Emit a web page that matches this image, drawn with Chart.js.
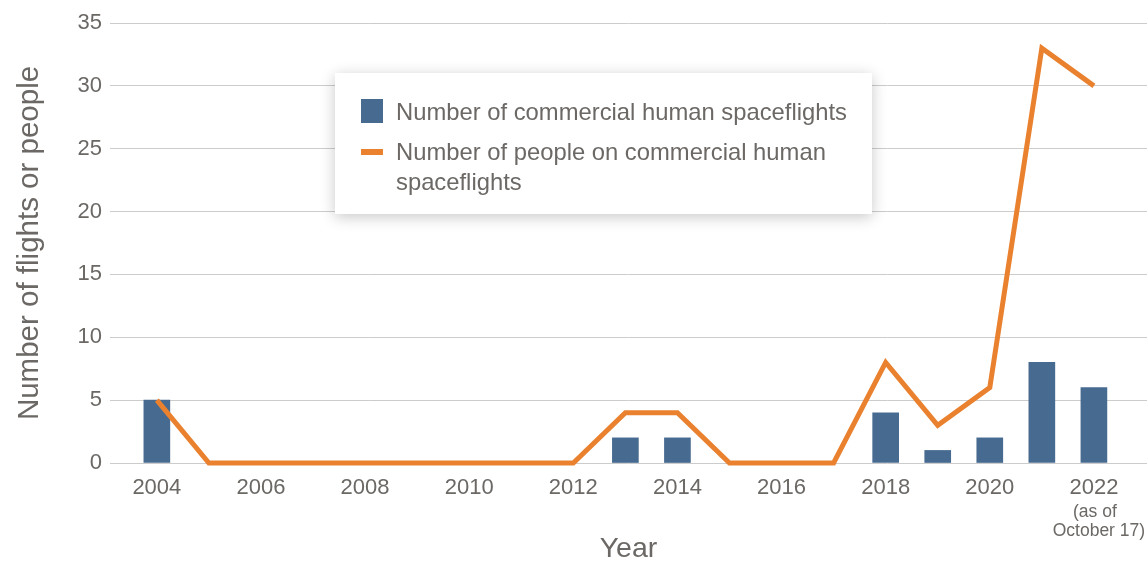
<!DOCTYPE html>
<html>
<head>
<meta charset="utf-8">
<script src="https://cdn.jsdelivr.net/npm/chart.js@4.4.0/dist/chart.umd.min.js"></script>
<style>
  html, body { margin: 0; padding: 0; background: #fff; }
  #wrap { position: relative; width: 1147px; height: 563px; }
  canvas { display: block; }
  #legend {
    position: absolute; left: 335px; top: 73px; width: 537px; height: 141px;
    background: #fff; box-shadow: 0 3px 14px rgba(0,0,0,0.22);
    font-family: "Liberation Sans", Arial, sans-serif; font-size: 23.8px; color: #6b6865;
    box-sizing: border-box; padding: 24px 10px 0 26px;
  }
  .item { display: flex; align-items: flex-start; margin-bottom: 10px; line-height: 30px; }
  .sw { flex: 0 0 22px; margin-right: 13px; }
  .sq { width: 22px; height: 24px; margin-top: 2px; }
  .ln { width: 22px; height: 6px; margin-top: 12px; }
</style>
</head>
<body>
<div id="wrap">
  <canvas id="c" width="1147" height="563"></canvas>
  <div id="legend"></div>
</div>
<script>
const years = [2004,2005,2006,2007,2008,2009,2010,2011,2012,2013,2014,2015,2016,2017,2018,2019,2020,2021,2022];
const flights = [5,0,0,0,0,0,0,0,0,2,2,0,0,0,4,1,2,8,6];
const people  = [5,0,0,0,0,0,0,0,0,4,4,0,0,0,8,3,6,33,30];
const xTickYears = [2004,2006,2008,2010,2012,2014,2016,2018,2020,2022];
const yTicks = [0,5,10,15,20,25,30,35];
const flightsLabel = "Number of commercial human spaceflights";
const peopleLabel = "Number of people on commercial human spaceflights";
const note2022 = ["(as of", "October 17)"];

const BLUE = "#476b90";
const ORANGE = "#e9812f";
const GREY = "#6b6865";
const FONT = "'Liberation Sans', Arial, sans-serif";

const notePlugin = {
  id: 'note',
  afterDraw(chart) {
    const x = chart.scales.x;
    const ctx = chart.ctx;
    const px = x.getPixelForValue(2022);
    ctx.save();
    ctx.fillStyle = GREY;
    ctx.font = "17.5px " + FONT;
    ctx.textAlign = 'center';
    ctx.textBaseline = 'middle';
    ctx.fillText(note2022[0], px + 1, 512);
    ctx.fillText(note2022[1], px + 5, 531);
    ctx.restore();
  }
};

const chart = new Chart(document.getElementById('c'), {
  type: 'bar',
  data: {
    datasets: [
      {
        type: 'line', label: peopleLabel,
        data: years.map((y, i) => ({ x: y, y: people[i] })),
        borderColor: ORANGE, backgroundColor: ORANGE, borderWidth: 5,
        pointRadius: 0, tension: 0, order: 1, borderJoinStyle: 'miter', clip: 10
      },
      {
        type: 'bar', label: flightsLabel,
        data: years.map((y, i) => ({ x: y, y: flights[i] })).filter(d => d.y > 0),
        backgroundColor: BLUE, barThickness: 26, order: 2
      }
    ]
  },
  options: {
    responsive: false, animation: false,
    layout: { padding: { top: 23, right: 0, left: 0, bottom: 0 } },
    plugins: { legend: { display: false }, tooltip: { enabled: false } },
    scales: {
      x: {
        type: 'linear', min: 2003.1, max: 2023.02, offset: false,
        grid: { display: false },
        border: { display: false },
        afterBuildTicks: s => { s.ticks = xTickYears.map(v => ({ value: v })); },
        afterFit: s => { s.height = 100; },
        ticks: { color: GREY, font: { size: 22, family: FONT }, padding: 4, maxRotation: 0, callback: v => String(v) },
        title: { display: true, text: 'Year', color: GREY, font: { size: 28.5, family: FONT, lineHeight: 1 }, padding: { top: -2, bottom: 0 } }
      },
      y: {
        min: 0, max: 35,
        afterBuildTicks: s => { s.ticks = yTicks.map(v => ({ value: v })); },
        afterFit: s => { s.width = 110; },
        grid: { color: '#cccccc', lineWidth: 1, drawTicks: false },
        border: { display: false },
        ticks: { color: GREY, font: { size: 22, family: FONT }, padding: 8 },
        title: { display: true, text: 'Number of flights or people', color: GREY, font: { size: 29.5, family: FONT }, padding: { top: 12, bottom: 0 } }
      }
    }
  },
  plugins: [notePlugin]
});

// HTML legend built from the datasets
const lg = document.getElementById('legend');
[chart.data.datasets[1], chart.data.datasets[0]].forEach(ds => {
  const it = document.createElement('div'); it.className = 'item';
  const sw = document.createElement('div'); sw.className = 'sw';
  const mk = document.createElement('div');
  mk.className = ds.type === 'bar' ? 'sq' : 'ln';
  mk.style.background = ds.type === 'bar' ? ds.backgroundColor : ds.borderColor;
  sw.appendChild(mk);
  const tx = document.createElement('div'); tx.textContent = ds.label;
  it.appendChild(sw); it.appendChild(tx); lg.appendChild(it);
});
</script>
</body>
</html>
